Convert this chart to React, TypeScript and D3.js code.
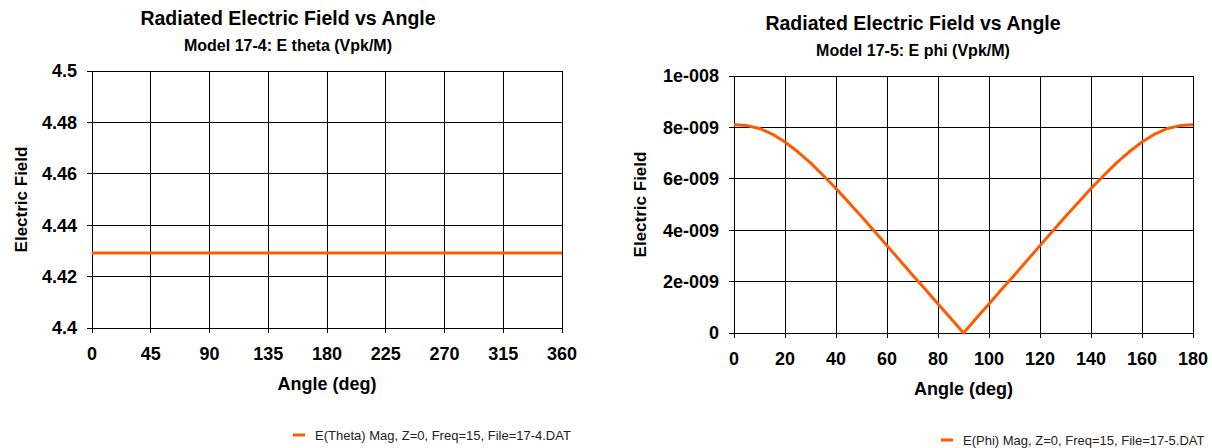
import * as d3 from 'd3';

// ---- data ----
const thetaAngles = [0, 45, 90, 135, 180, 225, 270, 315, 360];
const thetaValues = [4.4292, 4.4292, 4.4292, 4.4292, 4.4292, 4.4292, 4.4292, 4.4292, 4.4292];
const thetaXTicks = [0, 45, 90, 135, 180, 225, 270, 315, 360];
const thetaYTicks = [4.4, 4.42, 4.44, 4.46, 4.48, 4.5];
const thetaYTickLabels = ['4.4', '4.42', '4.44', '4.46', '4.48', '4.5'];

const phiAngles = [
  0, 5, 10, 15, 20, 25, 30, 35, 40, 45, 50, 55, 60, 65, 70, 75, 80, 85, 90,
  95, 100, 105, 110, 115, 120, 125, 130, 135, 140, 145, 150, 155, 160, 165, 170, 175, 180,
];
const phiValues = [
  8.1e-9, 8.07e-9, 7.96e-9, 7.74e-9, 7.43e-9, 7.05e-9, 6.62e-9, 6.13e-9, 5.62e-9, 5.08e-9,
  4.53e-9, 3.97e-9, 3.4e-9, 2.83e-9, 2.26e-9, 1.7e-9, 1.13e-9, 0.57e-9, 0,
  0.57e-9, 1.13e-9, 1.7e-9, 2.26e-9, 2.83e-9, 3.4e-9, 3.97e-9, 4.53e-9, 5.08e-9, 5.62e-9,
  6.13e-9, 6.62e-9, 7.05e-9, 7.43e-9, 7.74e-9, 7.96e-9, 8.07e-9, 8.1e-9,
];
const phiXTicks = [0, 20, 40, 60, 80, 100, 120, 140, 160, 180];
const phiYTicks = [0, 2e-9, 4e-9, 6e-9, 8e-9, 1e-8];
const phiYTickLabels = ['0', '2e-009', '4e-009', '6e-009', '8e-009', '1e-008'];

const FONT = '"Liberation Sans", Arial, sans-serif';
const ORANGE = '#ff5a00';

type ChartProps = {
  left: number;
  top: number;
  width: number;
  height: number;
  titleX: number;
  title: string;
  subtitle: string;
  xs: number[];
  ys: number[];
  xTicks: number[];
  yTicks: number[];
  yTickLabels: string[];
  legend: string;
  legendX: number;
  yTitleX: number;
};

function Chart(p: ChartProps) {
  const x = d3.scaleLinear().domain([p.xTicks[0], p.xTicks[p.xTicks.length - 1]]).range([p.left, p.left + p.width]);
  const y = d3.scaleLinear().domain([p.yTicks[0], p.yTicks[p.yTicks.length - 1]]).range([p.top + p.height, p.top]);
  const line = d3
    .line<number>()
    .x((_, i) => x(p.xs[i]))
    .y((d) => y(d));
  const bottom = p.top + p.height;
  const right = p.left + p.width;

  return (
    <g fontFamily={FONT}>
      <text x={p.titleX} y={p.top - 46} textAnchor="middle" fontSize={19.5} fontWeight="bold">
        {p.title}
      </text>
      <text x={p.titleX} y={p.top - 20} textAnchor="middle" fontSize={16} fontWeight="bold">
        {p.subtitle}
      </text>

      {/* grid */}
      {p.xTicks.map((t) => (
        <line key={'gx' + t} x1={x(t)} x2={x(t)} y1={p.top} y2={bottom + 5} stroke="#000" strokeWidth={1} shapeRendering="crispEdges" />
      ))}
      {p.yTicks.map((t) => (
        <line key={'gy' + t} x1={p.left - 5} x2={right} y1={y(t)} y2={y(t)} stroke="#000" strokeWidth={1} shapeRendering="crispEdges" />
      ))}

      {/* y tick labels */}
      {p.yTicks.map((t, i) => (
        <text key={'ly' + t} x={p.left - 15} y={y(t)} dy="0.36em" textAnchor="end" fontSize={18} fontWeight="bold">
          {p.yTickLabels[i]}
        </text>
      ))}
      {/* x tick labels */}
      {p.xTicks.map((t) => (
        <text key={'lx' + t} x={x(t)} y={bottom + 32} textAnchor="middle" fontSize={18} fontWeight="bold">
          {t}
        </text>
      ))}

      <text x={p.left + p.width / 2} y={bottom + 62} textAnchor="middle" fontSize={18} fontWeight="bold">
        Angle (deg)
      </text>
      <text
        transform={`translate(${p.yTitleX},${p.top + p.height / 2}) rotate(-90)`}
        textAnchor="middle"
        fontSize={17}
        fontWeight="bold"
      >
        Electric Field
      </text>

      <path d={line(p.ys) || ''} fill="none" stroke={ORANGE} strokeWidth={3} strokeLinejoin="round" />

      {/* legend */}
      <line x1={p.legendX} x2={p.legendX + 12} y1={bottom + 107} y2={bottom + 107} stroke={ORANGE} strokeWidth={3} />
      <text x={p.legendX + 22} y={bottom + 111.5} fontSize={13} fill="#222">
        {p.legend}
      </text>
    </g>
  );
}

export default function App() {
  return (
    <svg width={1212} height={448} style={{ position: 'absolute', left: 0, top: 0, background: '#fff' }}>
      <Chart
        left={92}
        top={71}
        width={470}
        height={257}
        titleX={288}
        title="Radiated Electric Field vs Angle"
        subtitle="Model 17-4: E theta (Vpk/M)"
        xs={thetaAngles}
        ys={thetaValues}
        xTicks={thetaXTicks}
        yTicks={thetaYTicks}
        yTickLabels={thetaYTickLabels}
        legend="E(Theta) Mag, Z=0, Freq=15, File=17-4.DAT"
        legendX={293}
        yTitleX={27}
      />
      <Chart
        left={734}
        top={76}
        width={459}
        height={257}
        titleX={913}
        title="Radiated Electric Field vs Angle"
        subtitle="Model 17-5: E phi (Vpk/M)"
        xs={phiAngles}
        ys={phiValues}
        xTicks={phiXTicks}
        yTicks={phiYTicks}
        yTickLabels={phiYTickLabels}
        legend="E(Phi) Mag, Z=0, Freq=15, File=17-5.DAT"
        legendX={941}
        yTitleX={646}
      />
    </svg>
  );
}
